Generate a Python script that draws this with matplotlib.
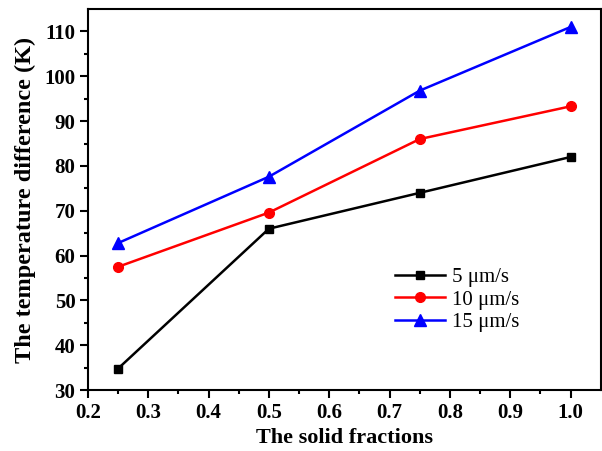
import matplotlib.pyplot as plt

fractions = [0.25, 0.5, 0.75, 1.0]
diff_5 = [34.8, 66.0, 74.0, 82.0]
diff_10 = [57.5, 69.6, 86.0, 93.3]
diff_15 = [62.8, 77.6, 96.8, 111.0]
labels = ['5 \u03bcm/s', '10 \u03bcm/s', '15 \u03bcm/s']

plt.rcParams['font.family'] = 'Liberation Serif'

fig = plt.figure(figsize=(6.02, 4.51), dpi=100)
ax = fig.add_axes([0.146, 0.135, 0.852, 0.845])

ax.plot(fractions, diff_5, color='black', marker='s', markersize=6, lw=1.8, label=labels[0])
ax.plot(fractions, diff_10, color='red', marker='o', markersize=7, lw=1.8, label=labels[1])
ax.plot(fractions, diff_15, color='blue', marker='^', markersize=8, lw=1.8, label=labels[2])

ax.set_xlim(0.2, 1.05)
ax.set_ylim(30, 115)
ax.set_xticks([0.2, 0.3, 0.4, 0.5, 0.6, 0.7, 0.8, 0.9, 1.0])
ax.set_xticks([0.25, 0.35, 0.45, 0.55, 0.65, 0.75, 0.85, 0.95], minor=True)
ax.set_yticks(range(30, 111, 10))
ax.set_yticks(range(35, 115, 10), minor=True)
ax.tick_params(which='major', direction='out', length=6, width=1.5, labelsize=15, pad=3)
ax.tick_params(which='minor', direction='out', length=3, width=1.5)
for lab in ax.get_xticklabels() + ax.get_yticklabels():
    lab.set_fontweight('bold')
for sp in ax.spines.values():
    sp.set_linewidth(1.5)

ax.set_xlabel('The solid fractions', fontsize=16, fontweight='bold', labelpad=4)
ax.set_ylabel('The temperature difference (K)', fontsize=17.5, fontweight='bold', labelpad=6)

ax.legend(loc='upper left', bbox_to_anchor=(0.563, 0.371), frameon=False, fontsize=15,
          handlelength=2.4, labelspacing=0.15, handletextpad=0.3)

fig.savefig('out.png', dpi=100)
